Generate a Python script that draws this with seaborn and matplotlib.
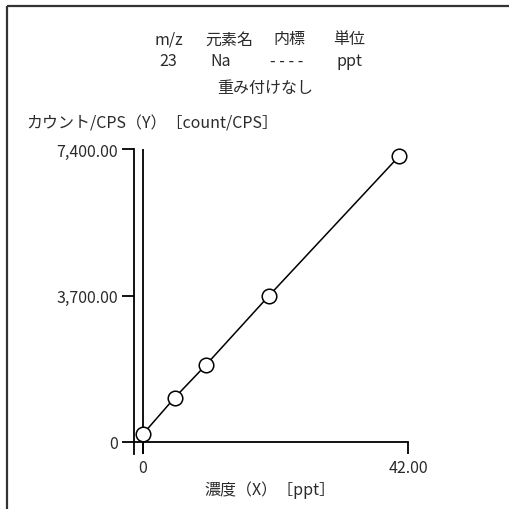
import matplotlib
matplotlib.use("Agg")
import matplotlib.pyplot as plt
from matplotlib.lines import Line2D
import seaborn as sns
import pandas as pd

# calibration standards
conc_ppt = [0, 5, 10, 20, 40.6]
counts_cps = [200, 1115, 1950, 3700, 7220]

y_ticks = [0, 3700, 7400]
y_ticklabels = ["0", "3,700.00", "7,400.00"]
x_ticks = [0, 42]
x_ticklabels = ["0", "42.00"]

header_cols = ["m/z", "元素名", "内標", "単位"]
header_vals = ["23", "Na", "- - - -", "ppt"]
weight_text = "重み付けなし"
y_label = "カウント/CPS（Y）［count/CPS］"
x_label = "濃度（X）［ppt］"

df = pd.DataFrame({"conc": conc_ppt, "cps": counts_cps})

sns.set_theme(style="white")
plt.rcParams["font.family"] = ["Noto Sans CJK JP", "DejaVu Sans"]

W, H = 509, 510
fig = plt.figure(figsize=(W / 100, H / 100), dpi=100)
fig.patch.set_facecolor("white")
fig.patch.set_linewidth(0)

# axes box in pixels: left 134, right 408, top 150, bottom 455
ax = fig.add_axes([134 / W, (H - 455) / H, (408 - 134) / W, (455 - 150) / H])
ax.set_xlim(-9 * 42 / 265, 42)
ax.set_ylim(-12 * 7400 / 293, 7400)

sns.lineplot(data=df, x="conc", y="cps", ax=ax, color="black", linewidth=1.1,
             sort=True, zorder=2)
sns.scatterplot(data=df, x="conc", y="cps", ax=ax, s=110, color="white",
                edgecolor="black", linewidth=1.1, zorder=3, clip_on=False)

ax.axvline(0, color="black", linewidth=1.3, zorder=1)

for side in ["top", "right"]:
    ax.spines[side].set_visible(False)
ax.spines["left"].set_color("black")
ax.spines["left"].set_linewidth(1.3)
ax.spines["bottom"].set_position(("data", 0))
ax.spines["bottom"].set_color("black")
ax.spines["bottom"].set_linewidth(1.3)

ax.set_yticks(y_ticks)
ax.set_yticklabels(y_ticklabels)
ax.set_xticks(x_ticks)
ax.set_xticklabels(x_ticklabels)
ax.tick_params(axis="both", direction="out", length=8.6, width=1.3,
               color="black", labelsize=11.5, labelcolor="#2a2a2a")
ax.tick_params(axis="y", pad=3, left=True)
ax.tick_params(axis="x", pad=4, bottom=True)
ax.set_xlabel("")
ax.set_ylabel("")
ax.grid(False)

# header block
col_x = [169, 229, 289, 349]
val_x = [168, 221, 287, 349]
for cx, t in zip(col_x, header_cols):
    fig.text(cx / W, 1 - 40 / H, t, ha="center", va="center", fontsize=11.5, color="#2a2a2a")
for cx, t in zip(val_x, header_vals):
    fig.text(cx / W, 1 - 62 / H, t, ha="center", va="center", fontsize=11.5, color="#2a2a2a")
fig.text(265 / W, 1 - 88 / H, weight_text, ha="center", va="center", fontsize=11.5, color="#2a2a2a")
fig.text(26 / W, 1 - 124 / H, y_label, ha="left", va="center", fontsize=11.5, color="#2a2a2a")
fig.text(270 / W, 1 - 490 / H, x_label, ha="center", va="center", fontsize=11.5, color="#2a2a2a")

# frame: only its top and left edges fall inside the picture
fx, fy = 7 / W, 1 - 7 / H
fig.add_artist(Line2D([fx, 1.05], [fy, fy], transform=fig.transFigure,
                      color="#333333", linewidth=1.6, solid_capstyle="butt"))
fig.add_artist(Line2D([fx, fx], [-0.05, fy], transform=fig.transFigure,
                      color="#333333", linewidth=1.6, solid_capstyle="butt"))

fig.savefig("out.png", dpi=100)
